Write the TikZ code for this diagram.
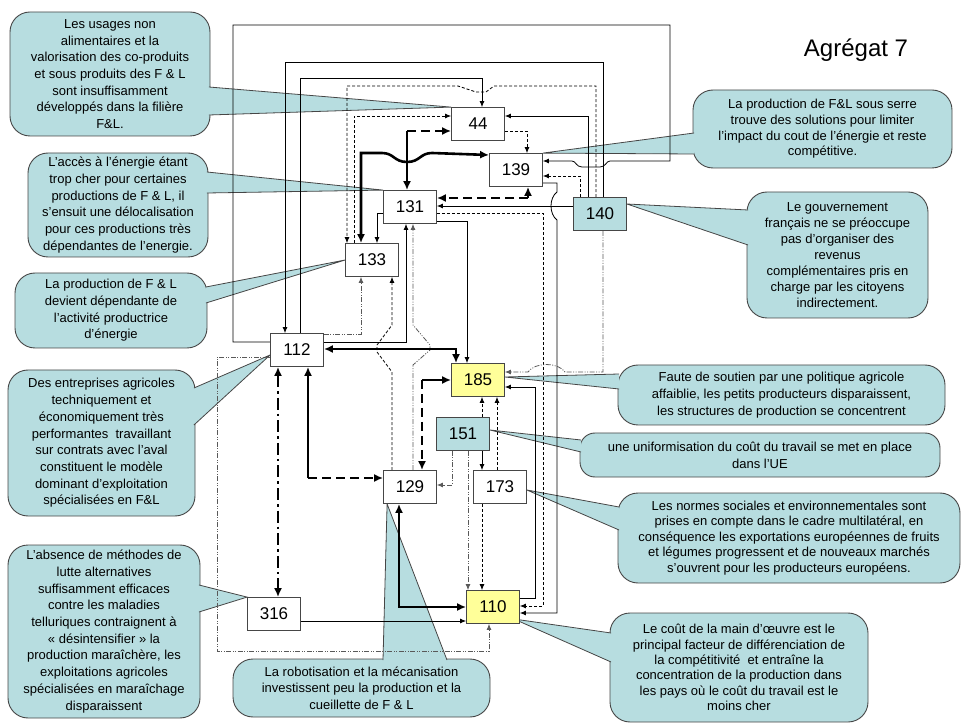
\documentclass[tikz,border=0pt]{standalone}
\usepackage{fontspec}
\setmainfont{Liberation Sans}
\usetikzlibrary{arrows.meta}
\definecolor{bleuvert}{RGB}{183,221,224}
\definecolor{jaune}{RGB}{255,255,153}
\definecolor{bord}{RGB}{70,70,70}
\pgfdeclarelayer{fond}
\pgfdeclarelayer{liens}
\pgfsetlayers{fond,liens,main}
% pointe d'une bulle : base, sommet, base
\newcommand\pointe[3]{%
  \fill[bleuvert] #1 -- #2 -- #3 -- cycle;
  \draw[bord, line width=0.8pt] #1 -- #2 -- #3;}

\begin{document}
\begin{tikzpicture}[x=1pt, y=-1pt,
	>={Latex[length=6pt,width=5pt]},
	boite/.style={draw=bord, fill=white, line width=0.8pt, minimum width=53pt, minimum height=33pt, inner sep=0pt, font=\fontsize{17}{20}\selectfont},
	bulle/.style={draw=bord, fill=bleuvert, line width=0.9pt, rounded corners=20pt, inner sep=2pt, align=center, font=\fontsize{13}{16.7}\selectfont},
	lien/.style={line width=0.8pt},
	tiret/.style={lien, dash pattern=on 3pt off 2pt},
	mixte/.style={lien, draw=gray!70!black, dash pattern=on 5pt off 1.5pt on 1pt off 1.5pt on 1pt off 1.5pt},
	fort/.style={line width=2.6pt, >={Latex[length=9pt,width=8pt]}},
	fortiret/.style={fort, dash pattern=on 9pt off 5pt},
	fortmixte/.style={fort, dash pattern=on 12pt off 4pt on 2.6pt off 4pt}]
	\useasboundingbox (0,0) rectangle (962,727);

	\node[font=\fontsize{24}{28}\selectfont] (titre) at (856,50) {Agrégat 7};

	% les variables
	\node[boite] (n44) at (478,124) {44};
	\node[boite] (n139) at (516,170) {139};
	\node[boite] (n131) at (410,207) {131};
	\node[boite, fill=bleuvert] (n140) at (600,214) {140};
	\node[boite] (n133) at (372,260) {133};
	\node[boite] (n112) at (297,350) {112};
	\node[boite, fill=jaune] (n185) at (478,380) {185};
	\node[boite, fill=bleuvert] (n151) at (463,434) {151};
	\node[boite] (n129) at (410,487) {129};
	\node[boite] (n173) at (500,487) {173};
	\node[boite, fill=jaune] (n110) at (493,607) {110};
	\node[boite] (n316) at (274,614) {316};

	% les bulles
	\begin{pgfonlayer}{fond}
	\node[bulle, minimum width=200pt, minimum height=124pt] (c1) at (110,74) {Les usages non\\alimentaires et la\\valorisation des co-produits\\et sous produits des F \& L\\sont insuffisamment\\développés dans la filière\\F\&L.};
	\node[bulle, minimum width=180pt, minimum height=104pt] (c2) at (118,205) {L’accès à l’énergie étant\\trop cher pour certaines\\productions de F \& L, il\\s’ensuit une délocalisation\\pour ces productions très\\dépendantes de l'energie.};
	\node[bulle, minimum width=192pt, minimum height=75pt] (c3) at (111,310.5) {La production de F \& L\\devient dépendante de\\l’activité productrice\\d’énergie};
	\node[bulle, minimum width=187pt, minimum height=146pt] (c4) at (101.5,443) {Des entreprises agricoles\\techniquement et\\économiquement très\\performantes\ \ travaillant\\sur contrats avec l’aval\\constituent le modèle\\dominant d’exploitation\\spécialisées en F\&L};
	\node[bulle, minimum width=192pt, minimum height=173pt] (c5) at (104,631.5) {L’absence de méthodes de\\lutte alternatives\\suffisamment efficaces\\contre les maladies\\telluriques contraignent à\\« désintensifier » la\\production maraîchère, les\\exploitations agricoles\\spécialisées en maraîchage\\disparaissent};
	\node[bulle, minimum width=257pt, minimum height=58pt] (c6) at (361.5,688) {La robotisation et la mécanisation\\investissent peu la production et la\\cueillette de F \& L};
	\node[bulle, minimum width=259pt, minimum height=78pt, font=\fontsize{13}{15.7}\selectfont] (c7) at (822.5,129) {La production de F\&L sous serre\\trouve des solutions pour limiter\\l'impact du cout de l'énergie et reste\\compétitive.};
	\node[bulle, minimum width=181pt, minimum height=126pt, font=\fontsize{13}{16}\selectfont] (c8) at (837.5,255) {Le gouvernement\\français ne se préoccupe\\pas d'organiser des\\revenus\\complémentaires pris en\\charge par les citoyens\\indirectement.};
	\node[bulle, minimum width=327pt, minimum height=60pt] (c9) at (781.5,395) {Faute de soutien par une politique agricole\\affaiblie, les petits producteurs disparaissent,\\les structures de production se concentrent};
	\node[bulle, minimum width=360pt, minimum height=44pt, rounded corners=15pt] (c10) at (760,455) {une uniformisation du coût du travail se met en place\\dans l’UE};
	\node[bulle, minimum width=342pt, minimum height=90pt, font=\fontsize{13}{15.4}\selectfont] (c11) at (789,538) {Les normes sociales et environnementales sont\\prises en compte dans le cadre multilatéral, en\\conséquence les exportations européennes de fruits\\et légumes progressent et de nouveaux marchés\\s'ouvrent pour les producteurs européens.};
	\node[bulle, minimum width=258pt, minimum height=109pt, font=\fontsize{13}{15.4}\selectfont] (c12) at (739,667.5) {Le coût de la main d’œuvre est le\\principal facteur de différenciation de\\la compétitivité\ \ et entraîne la\\concentration de la production dans\\les pays où le coût du travail est le\\moins cher};

	\pointe{([xshift=-1.5pt,yshift=-13pt]c1.east)}{(n44.north west)}{([xshift=-1.5pt,yshift=-41pt]c1.east)}
	\pointe{([xshift=-1.5pt,yshift=33pt]c2.east)}{(n131.north west)}{([xshift=-1.5pt,yshift=12pt]c2.east)}
	\pointe{([xshift=-1.5pt,yshift=23.5pt]c3.east)}{(n133.west)}{([xshift=-1.5pt,yshift=7.5pt]c3.east)}
	\pointe{([xshift=-1.5pt,yshift=55pt]c4.east)}{([yshift=-5pt]n112.west)}{([xshift=-1.5pt,yshift=18pt]c4.east)}
	\pointe{([xshift=-1.5pt,yshift=46.5pt]c5.east)}{(n316.north west)}{([xshift=-1.5pt,yshift=19.5pt]c5.east)}
	\pointe{([xshift=21.5pt,yshift=-1.5pt]c6.north)}{([xshift=4pt]n129.south west)}{([xshift=85.5pt,yshift=-1.5pt]c6.north)}
	\pointe{([xshift=1.5pt,yshift=-4pt]c7.west)}{(n139.north east)}{([xshift=1.5pt,yshift=-25pt]c7.west)}
	\pointe{([xshift=1.5pt,yshift=45pt]c8.west)}{([yshift=10pt]n140.east)}{([xshift=1.5pt,yshift=10pt]c8.west)}
	\pointe{([xshift=1.5pt,yshift=21pt]c9.west)}{([yshift=3pt]n185.east)}{([xshift=1.5pt,yshift=6pt]c9.west)}
	\pointe{([xshift=1.5pt,yshift=15pt]c10.west)}{([yshift=4pt]n151.east)}{([xshift=1.5pt,yshift=3pt]c10.west)}
	\pointe{([xshift=1.5pt,yshift=31pt]c11.west)}{([yshift=-3pt]n173.east)}{([xshift=1.5pt,yshift=8pt]c11.west)}
	\pointe{([xshift=1.5pt,yshift=34.5pt]c12.west)}{([xshift=-6pt,yshift=-12pt]n110.east)}{([xshift=1.5pt,yshift=5.5pt]c12.west)}
	\end{pgfonlayer}

	% les liens
	\begin{pgfonlayer}{liens}
	% boucles du haut
	\draw[lien,->] ([yshift=8pt]n112.west) -- (233,342) -- (233,25) -- (670,25) -- (670,161) -- (610,161)
		.. controls (606,161) and (606,167) .. (600,167) -- (582,167) .. controls (576,167) and (576,161) .. (572,161)
		-- ([yshift=9pt]n139.east);
	\draw[lien,->] ([yshift=8pt]n112.east) -| ([xshift=-4pt]n131.south);
	\draw[lien,->] ([xshift=3pt]n140.north) |- (285,62) -- ([xshift=-12pt]n112.north);
	\draw[lien,->] ([xshift=3pt]n112.north) |- (482,78) -- ([xshift=4pt]n44.north);
	\draw[tiret,->] ([xshift=-4pt]n140.north) -- (596,86) -- (494,86) -- (486,92) -- (476,92) -- (458,86) -- (347,86) -- ([xshift=-25pt]n133.north);
	\draw[tiret,->] ([xshift=-18pt]n133.north) |- ([yshift=8pt]n44.west);
	\draw[lien,->] ([xshift=-12pt]n140.north) |- ([yshift=8pt]n44.east);
	\draw[tiret,->] ([yshift=-7pt]n44.east) -| ([xshift=11pt]n139.north);
	\draw[tiret,->] ([xshift=-20pt]n140.north) |- ([yshift=-6pt]n139.east);

	% liens forts du haut
	\coordinate (k44) at (407,131);
	\draw[fortiret,->] (k44) -- ([yshift=-7pt]n44.west);
	\draw[fort,->] (k44) -- ([xshift=-3pt]n131.north);
	\draw[fort,<->] ([xshift=-11pt]n133.north) -- (361,153) -- (382,153) .. controls (394,153) and (394,162) .. (407,162)
		.. controls (420,162) and (420,153) .. (432,153) -- ([yshift=15pt]n139.west);
	\coordinate (k139) at (528,198);
	\draw[fortiret,->] (k139) -- ([yshift=9pt]n131.east);
	\draw[fort,->] (k139) -- ([xshift=12pt]n139.south);

	\draw[lien,->] ([yshift=8pt]n140.west) -- ([yshift=1pt]n131.east);
	\draw[lien,->] ([yshift=-13pt]n139.east) -- (557,183) -- (557,192) .. controls (549,198) and (549,214) .. (557,220)
		-- (557,613) -- ([yshift=-6pt]n110.east);
	\draw[lien,->] ([yshift=-14pt]n131.east) -| ([xshift=-11pt]n185.north);
	\draw[tiret,->] ([yshift=-6pt]n131.east) -- (543,213) -- (543,606) -- ([yshift=1pt]n110.east);
	\draw[lien,->] ([yshift=9pt]n110.east) -- (535,598) -- (535,387) -- ([yshift=-7pt]n185.east);
	\draw[mixte,->] ([xshift=3pt]n140.south) -- (603,372) -- (565,372) .. controls (558,362) and (535,362) .. (528,372)
		-- ([yshift=8pt]n185.east);
	\draw[lien,->] ([yshift=-6pt]n131.west) -| ([xshift=5pt]n133.north);
	\draw[mixte,->] ([yshift=16pt]n112.east) -| ([xshift=-11pt]n133.south);
	\draw[tiret,->] ([xshift=-18pt]n129.north) -- (392,372) -- (377,352) -- (377,345) -- (392,325) -- ([xshift=20pt]n133.south);
	\draw[mixte,->] ([xshift=3pt]n129.north) -- (413,365) -- (430,350) -- (430,345) -- (413,325) -- ([xshift=3pt]n131.south);

	% liens forts du bas
	\draw[fort,<->] ([yshift=1pt]n112.east) -| ([xshift=-22pt]n185.north);
	\coordinate (k185) at (422,380);
	\draw[fort,->] (k185) -- (n185.west);
	\draw[fortiret,->] (k185) -- ([xshift=12pt]n129.north);
	\coordinate (k112) at (308,478);
	\draw[fort,->] (k112) -- ([xshift=11pt]n112.south);
	\draw[fortiret,->] (k112) -- ([yshift=9pt]n129.west);
	\draw[fortmixte,<->] ([xshift=-19pt]n112.south) -- ([xshift=4pt]n316.north);
	\draw[fort,<->] ([xshift=-11pt]n129.south) |- (n110.west);

	% autour de 151 et 173
	\draw[tiret,->] ([xshift=19pt]n151.north) -- ([xshift=4pt]n185.south);
	\draw[tiret,->] ([xshift=-3pt]n173.north) -- ([xshift=19pt]n185.south);
	\draw[lien,->] ([xshift=19pt]n151.south) -- ([xshift=-18pt]n173.north);
	\draw[mixte,->] ([xshift=-11pt]n151.south) |- ([yshift=2pt]n129.east);
	\draw[mixte,->] ([xshift=5pt]n151.south) -- ([xshift=-25pt]n110.north);
	\draw[tiret,->] ([xshift=-18pt]n173.south) -- ([xshift=-11pt]n110.north);
	\draw[lien,->] ([yshift=-7pt]n316.east) -- ([yshift=-14pt]n110.west);
	\draw[mixte,->] ([yshift=-7pt]n112.west) -- (217,357) -- (217,651) -- (489,651) -- ([xshift=-4pt]n110.south);
	\end{pgfonlayer}
\end{tikzpicture}
\end{document}
